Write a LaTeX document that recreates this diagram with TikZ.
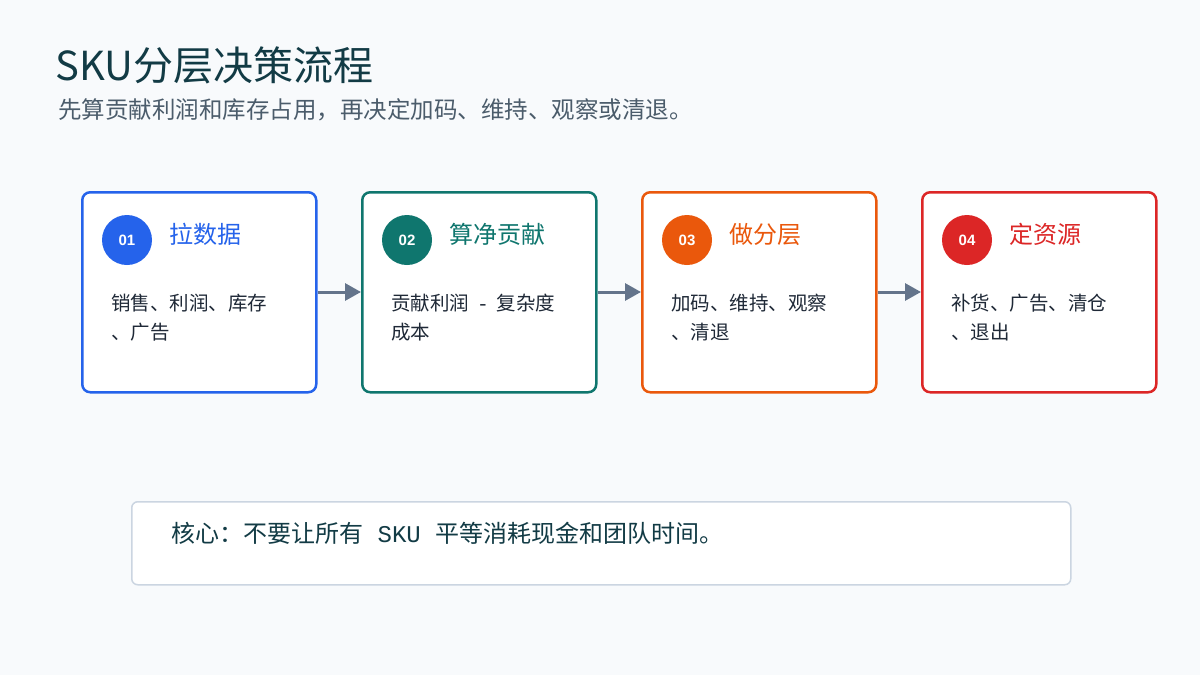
\documentclass[tikz,border=0pt]{standalone}
\usepackage{fontspec}
\setmainfont{Noto Sans CJK SC}
\newfontfamily\numfont{Liberation Sans}
\newfontfamily\monofont{Liberation Mono}
\usetikzlibrary{arrows.meta}
\definecolor{bg}{HTML}{F8FAFC}
\definecolor{titlec}{HTML}{123B45}
\definecolor{subc}{HTML}{4B5C6B}
\definecolor{bodyc}{HTML}{1F2937}
\definecolor{arrowc}{HTML}{64748B}
\definecolor{noteb}{HTML}{CBD5E1}
\definecolor{cA}{HTML}{2563EB}
\definecolor{cB}{HTML}{0F766E}
\definecolor{cC}{HTML}{EA580C}
\definecolor{cD}{HTML}{DC2626}
\tikzset{
  card/.style={draw=#1, line width=2.5pt, fill=white, rounded corners=8pt, minimum width=234pt, minimum height=200pt, inner sep=0pt},
  badge/.style={circle, fill=#1, minimum size=50pt, inner sep=0pt, text=white, font=\numfont\bfseries\fontsize{15}{17}\selectfont},
  ctitle/.style={anchor=west, inner sep=0pt, text=#1, font=\fontsize{24}{27}\selectfont},
  cbody/.style={anchor=north west, inner sep=0pt, text=bodyc, align=left, font=\fontsize{19.5}{29}\selectfont},
  flow/.style={draw=arrowc, line width=3pt, -{Triangle[length=16pt,width=17pt]}},
}
\begin{document}
\begin{tikzpicture}[x=1pt,y=-1pt]
\fill[bg] (0,0) rectangle (1200,675);
\useasboundingbox (0,0) rectangle (1200,675);
\node[anchor=west, inner sep=0pt, text=titlec, font=\fontsize{40}{44}\selectfont] (title) at (55,65) {SKU分层决策流程};
\node[anchor=west, inner sep=0pt, text=subc, font=\fontsize{23.5}{26}\selectfont] (sub) at (58,110) {先算贡献利润和库存占用，再决定加码、维持、观察或清退。};
\foreach \i/\x/\c/\n/\t/\b in {
  1/81/cA/01/拉数据/{销售、利润、库存\\、广告},
  2/361/cB/02/算净贡献/{贡献利润\hspace{8pt}{\monofont -}\hspace{8pt}复杂度\\成本},
  3/641/cC/03/做分层/{加码、维持、观察\\、清退},
  4/921/cD/04/定资源/{补货、广告、清仓\\、退出}}{
  \node[card=\c, anchor=north west] (card\i) at (\x,191) {};
  \node[badge=\c] (badge\i) at (\x+46,240) {\n};
  \node[ctitle=\c] (ct\i) at (\x+88,234) {\t};
  \node[cbody] (cb\i) at (\x+30,294) {\b};
}
\foreach \a/\b in {1/2,2/3,3/4}{
  \draw[flow] (card\a.east |- 0,292) -- (card\b.west |- 0,292);
}
\node[draw=noteb, line width=1.5pt, fill=white, rounded corners=6pt, anchor=north west, minimum width=939pt, minimum height=83pt, inner sep=0pt] (note) at (131,501) {};
\node[anchor=west, inner sep=0pt, text=titlec, font=\fontsize{24}{27}\selectfont] (notetext) at (171,533) {核心：不要让所有{\monofont\ SKU }平等消耗现金和团队时间。};
\end{tikzpicture}
\end{document}
